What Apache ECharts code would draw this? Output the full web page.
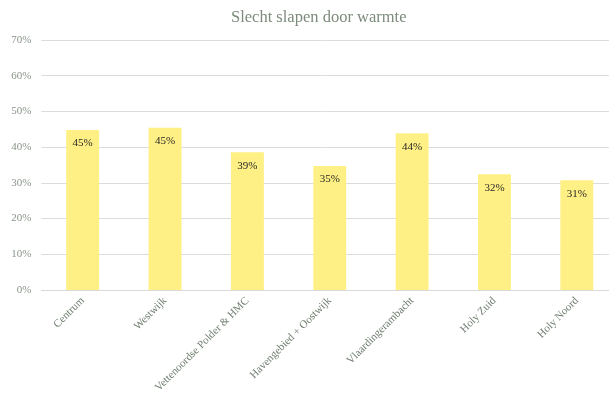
<!DOCTYPE html>
<html>
<head>
<meta charset="utf-8">
<script src="https://cdn.jsdelivr.net/npm/echarts@6/dist/echarts.min.js"></script>
<style>
  html, body { margin: 0; padding: 0; background: #fff; }
  #chart { width: 609px; height: 397px; }
</style>
</head>
<body>
<div id="chart"></div>
<script>
// Share of residents per district who sleep badly because of heat (%)
const districts = [
  'Centrum',
  'Westwijk',
  'Vettenoordse Polder & HMC',
  'Havengebied + Oostwijk',
  'Vlaardingerambacht',
  'Holy Zuid',
  'Holy Noord'
];
const sleepPoorly = [44.8, 45.4, 38.6, 34.7, 43.9, 32.4, 30.7];
const yTicks = [0, 10, 20, 30, 40, 50, 60, 70];

const serif = '"Liberation Serif", "DejaVu Serif", serif';
const chart = echarts.init(document.getElementById('chart'));

chart.setOption({
  animation: false,
  title: {
    text: 'Slecht slapen door warmte',
    left: 226,
    top: 4,
    textStyle: {
      fontFamily: serif,
      fontSize: 16.5,
      fontWeight: 'normal',
      color: '#7c8b7c'
    }
  },
  // plot area runs slightly past the right edge of the canvas
  grid: {
    left: 41.5,
    right: -9,
    top: 40,
    bottom: 107,
    containLabel: false,
    outerBoundsMode: 'none'
  },
  xAxis: {
    type: 'category',
    data: districts,
    axisLine: { lineStyle: { color: '#d9d9d9', width: 1 } },
    axisTick: { show: false },
    axisLabel: {
      rotate: 45,
      interval: 0,
      margin: 9,
      fontFamily: serif,
      fontSize: 11,
      color: '#6f7d6f'
    }
  },
  yAxis: {
    type: 'value',
    min: yTicks[0],
    max: yTicks[yTicks.length - 1],
    interval: 10,
    axisLine: { show: false },
    axisTick: { show: false },
    splitLine: { lineStyle: { color: '#dcdcdc', width: 1 } },
    axisLabel: {
      margin: 10,
      fontFamily: serif,
      fontSize: 11,
      color: '#8a948a',
      formatter: v => v + '%'
    }
  },
  series: [{
    type: 'bar',
    data: sleepPoorly,
    barCategoryGap: '60%',
    itemStyle: { color: '#fff085' },
    label: {
      show: true,
      position: 'insideTop',
      distance: 8,
      fontFamily: serif,
      fontSize: 11,
      color: '#262626',
      formatter: p => Math.round(p.value) + '%'
    }
  }]
});
</script>
</body>
</html>
